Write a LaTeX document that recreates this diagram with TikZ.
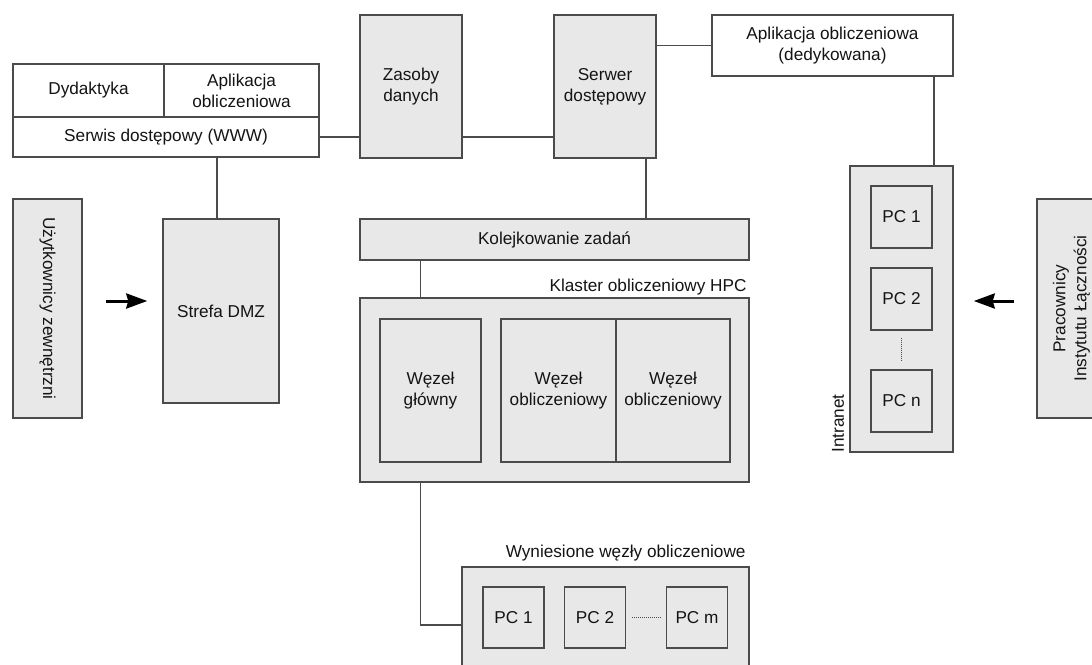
\documentclass[tikz,border=0pt]{standalone}
\usepackage{fontspec}
\setmainfont{Liberation Sans}
\usetikzlibrary{arrows.meta,calc}
\definecolor{boxfill}{RGB}{232,232,232}
\definecolor{edge}{RGB}{75,75,75}
\definecolor{ink}{RGB}{20,20,20}
\tikzset{
  base/.style={draw=edge, line width=1.5pt, inner sep=0pt, text=ink,
    font=\fontsize{17.2}{21}\selectfont, align=center},
  gbox/.style={base, fill=boxfill},
  wbox/.style={base, fill=white},
  sz/.style 2 args={minimum width=#1pt, minimum height=#2pt},
  conn/.style={draw=edge, line width=1.5pt},
  arr/.style={draw=black, line width=3pt, -{Stealth[length=21pt,width=15pt,inset=2pt]}},
  dotline/.style={draw=edge, line width=0.9pt, dash pattern=on 1pt off 1pt},
  lbl/.style={text=ink, inner sep=0pt, font=\fontsize{17.2}{21}\selectfont}
}
\begin{document}
\begin{tikzpicture}[x=1pt,y=-1pt]
\useasboundingbox (0,0) rectangle (1092,664);
\clip (0,0) rectangle (1092,664);
\fill[white] (0,0) rectangle (1092,664);

% top-left block
\node[wbox, sz={151}{53}] (dyd) at (88.5,90.5) {Dydaktyka};
\node[wbox, sz={155}{53}] (apl) at (241.5,90.5) {Aplikacja\\obliczeniowa};
\node[wbox, sz={306}{40}] (www) at (166,137) {Serwis dostępowy (WWW)};

\node[gbox, sz={102}{143}] (zas) at (411,86.5) {Zasoby\\danych};
\node[gbox, sz={102}{143}] (ser) at (605,86.5) {Serwer\\dostępowy};
\node[wbox, sz={241}{61}] (aplded) at (832.5,45.5) {Aplikacja obliczeniowa\\(dedykowana)};

% left
\node[gbox, sz={219}{69}, rotate=-90] (uzy) at (47.5,308.5) {Użytkownicy zewnętrzni};
\node[gbox, sz={116}{184}] (dmz) at (221,311) {Strefa DMZ};

% cluster
\node[gbox, sz={389}{41}] (kol) at (554.5,239.5) {Kolejkowanie zadań};
\node[gbox, sz={389}{184}] (kl) at (554.5,390) {};
\node[lbl, anchor=base east] (kllbl) at ($(kl.north east)+(-3,-6)$) {Klaster obliczeniowy HPC};
\node[gbox, sz={101}{143}] (wg) at (430.5,390.5) {Węzeł\\główny};
\node[gbox, sz={115}{143}] (wo1) at (558.5,390.5) {Węzeł\\obliczeniowy};
\node[gbox, sz={114}{143}] (wo2) at (673,390.5) {Węzeł\\obliczeniowy};

% remote nodes
\node[gbox, sz={287}{116}] (wyn) at (605.5,625) {};
\node[lbl, anchor=base east] (wynlbl) at ($(wyn.north east)+(-4,-9)$) {Wyniesione węzły obliczeniowe};
\node[gbox, sz={61}{61}] (wpc1) at (513.5,617.5) {PC 1};
\node[gbox, sz={61}{61}] (wpc2) at (595,617.5) {PC 2};
\node[gbox, sz={61}{61}] (wpcm) at (697,617.5) {PC m};

% intranet
\node[gbox, sz={103}{286}] (intr) at (901.5,309) {};
\node[lbl, rotate=90, anchor=south west] (intrlbl) at ($(intr.south west)+(-5,0)$) {Intranet};
\node[gbox, sz={61}{62}] (ipc1) at (901.5,217) {PC 1};
\node[gbox, sz={61}{62}] (ipc2) at (901.5,299) {PC 2};
\node[gbox, sz={61}{62}] (ipcn) at (901.5,401) {PC n};

\node[gbox, sz={219}{69}, rotate=90] (prac) at (1071.5,308.5) {Pracownicy\\Instytutu Łączności};

% connectors
\draw[conn] (www.east) -- (www.east -| zas.west);
\draw[conn] (zas.east |- www.east) -- (ser.west |- www.east);
\draw[conn] (ser.east |- aplded.west) -- (aplded.west);
\draw[conn] ($(dmz.north)+(-4,0)$) -- ($(dmz.north |- www.south)+(-4,0)$);
\draw[conn] ($(ser.south)+(41,0)$) -- ($(ser.south |- kol.north)+(41,0)$);
\draw[conn] ($(kol.south west)+(61,0)$) -- ($(kl.north west)+(61,0)$);
\draw[conn] ($(kl.south west)+(61,0)$) |- (wyn.west);
\draw[conn] ($(intr.north east)+(-20,0)$) -- ($(aplded.south -| intr.north east)+(-20,0)$);

\draw[dotline] ($(ipc2.south)+(0,7)$) -- ($(ipcn.north)+(0,-8)$);
\draw[dotline] ($(wpc2.east)+(6,0)$) -- ($(wpcm.west)+(-4,0)$);

\draw[arr] ($(uzy.north)+(23,-7.5)$) -- ($(uzy.north -| dmz.west)+(-15,-7.5)$);
\draw[arr] ($(prac.north)+(-22,-7.5)$) -- ($(prac.north -| intr.east)+(20,-7.5)$);
\end{tikzpicture}
\end{document}
